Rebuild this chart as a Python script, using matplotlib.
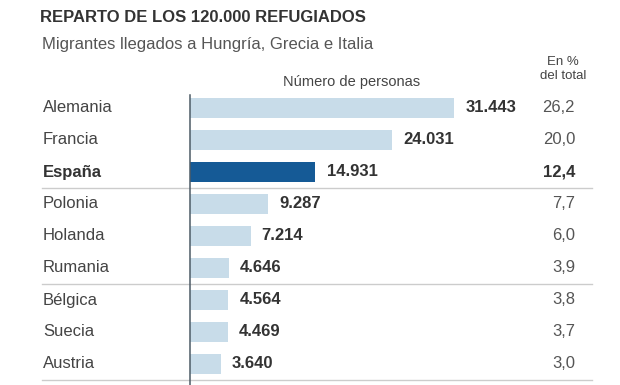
import matplotlib.pyplot as plt
import matplotlib.transforms as mtransforms
from matplotlib.lines import Line2D

plt.rcParams['font.family'] = ['Liberation Sans', 'DejaVu Sans']

# data
countries = ["Alemania", "Francia", "España", "Polonia", "Holanda",
             "Rumania", "Bélgica", "Suecia", "Austria"]
people = [31443, 24031, 14931, 9287, 7214, 4646, 4564, 4469, 3640]
people_labels = ["31.443", "24.031", "14.931", "9.287", "7.214",
                 "4.646", "4.564", "4.469", "3.640"]
pct_labels = ["26,2", "20,0", "12,4", "7,7", "6,0", "3,9", "3,8", "3,7", "3,0"]
highlight = "España"

W, H = 620, 385
fig = plt.figure(figsize=(W / 100, H / 100), dpi=100)
fig.patch.set_facecolor("white")

# axes placed in pixel terms: bars start at x=190, rows every 32px from y=108
ax = fig.add_axes([190 / W, 0, 410 / W, (H - 95) / H])
ax.set_xlim(0, 410 / 8.4 * 1000)
ax.set_ylim((H - 108) / 32, -(108 - 95) / 32)

light = "#c8dce9"
dark = "#155a96"
text_col = "#333333"

ypos = list(range(len(countries)))
colors = [dark if c == highlight else light for c in countries]
ax.barh(ypos, people, height=0.6, color=colors, zorder=2)

for s in ["top", "right", "bottom"]:
    ax.spines[s].set_visible(False)
ax.spines["left"].set_color("#4d5b66")
ax.spines["left"].set_linewidth(1.1)
ax.set_xticks([])
ax.set_yticks([])
ax.patch.set_alpha(0)

trans = mtransforms.blended_transform_factory(fig.transFigure, ax.transData)

for i, c in enumerate(countries):
    bold = c == highlight
    w = "bold" if bold else "normal"
    ax.text(43 / W, i, c, transform=trans, ha="left", va="center",
            fontsize=12, fontweight=w, color="#444444" if not bold else text_col)
    ax.annotate(people_labels[i], xy=(people[i], i), xytext=(8, 0),
                textcoords="offset points", ha="left", va="center",
                fontsize=12, fontweight="bold", color=text_col)
    ax.text(575 / W, i, pct_labels[i], transform=trans, ha="right",
            va="center", fontsize=12, fontweight=w,
            color="#555555" if not bold else text_col)

# group separators
for yv in [2.5, 5.5, 8.5]:
    ax.add_line(Line2D([42 / W, 592 / W], [yv, yv], transform=trans,
                       color="#cccccc", lw=1, clip_on=False, zorder=1))

fig.text(40 / W, 1 - 18 / H, "REPARTO DE LOS 120.000 REFUGIADOS",
         ha="left", va="center", fontsize=12, fontweight="bold",
         color="#333333")
fig.text(42 / W, 1 - 45 / H, "Migrantes llegados a Hungría, Grecia e Italia",
         ha="left", va="center", fontsize=12, color="#555555")
fig.text(352 / W, 1 - 82 / H, "Número de personas", ha="center",
         va="center", fontsize=10.5, color="#444444")
fig.text(563 / W, 1 - 69 / H, "En %\ndel total", ha="center", va="center",
         fontsize=9.5, color="#444444", linespacing=1.25)

fig.savefig("out.png", dpi=100, facecolor="white")
